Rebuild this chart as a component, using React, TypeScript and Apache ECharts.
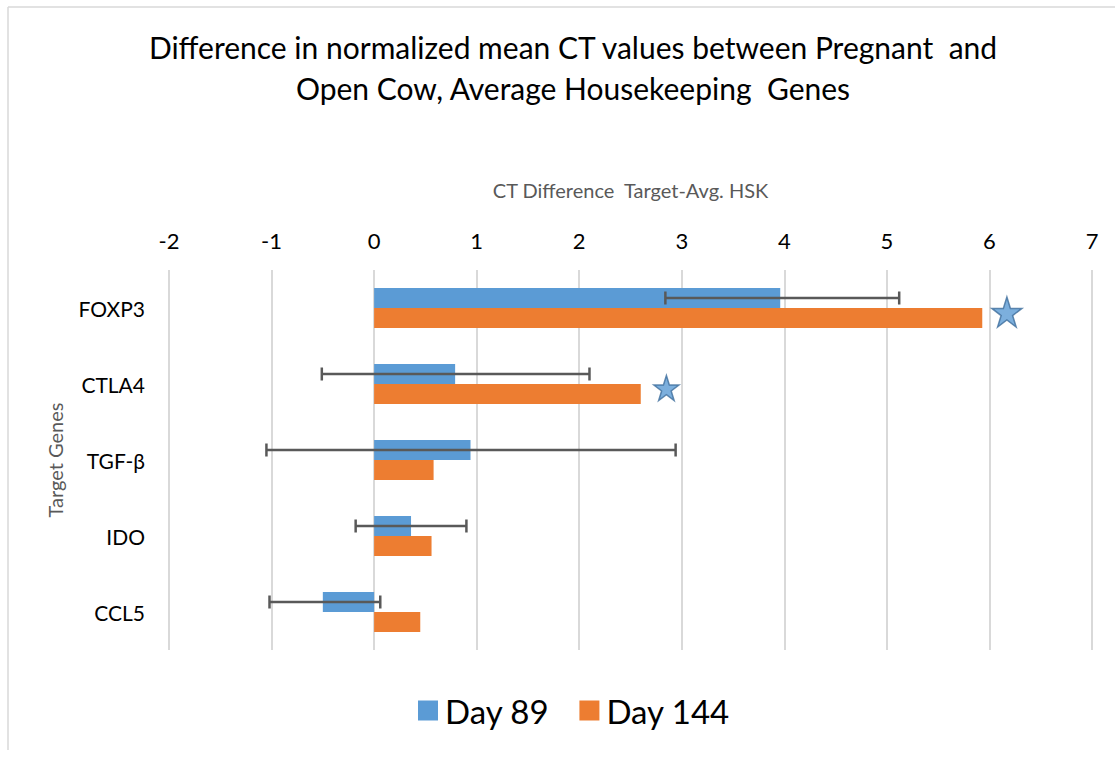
import React, { useEffect, useRef } from "react";
import * as echarts from "echarts";

const categories = ["FOXP3", "CTLA4", "TGF-β", "IDO", "CCL5"];
const day89 = [3.96, 0.79, 0.94, 0.36, -0.5];
const day144 = [5.93, 2.6, 0.58, 0.56, 0.45];
const errLow = [2.84, -0.51, -1.05, -0.18, -1.02];
const errHigh = [5.12, 2.1, 2.94, 0.9, 0.06];
const starCats = ["FOXP3", "CTLA4"];
const starX = [6.17, 2.85];
const xTicks = { min: -2, max: 7, interval: 1 };

const FONT = "Lato";
const STAR = "path://M50,0 L61.2,34.5 L97.6,34.5 L68.2,55.9 L79.4,90.5 L50,69.1 L20.6,90.5 L31.8,55.9 L2.4,34.5 L38.8,34.5 Z";
const starSizes = [30, 25];

export default function App() {
  const ref = useRef<HTMLDivElement>(null);
  useEffect(() => {
    const chart = echarts.init(ref.current!, null, { renderer: "svg" });
    const barW = 20;
    chart.setOption({
      animation: false,
      backgroundColor: "#ffffff",
      textStyle: { fontFamily: FONT },
      title: {
        text: "Difference in normalized mean CT values between Pregnant  and\nOpen Cow, Average Housekeeping  Genes",
        left: 568,
        textAlign: "center",
        top: 21,
        textStyle: { fontFamily: FONT, fontSize: 30, fontWeight: "normal", color: "#000", lineHeight: 41 },
      },
      graphic: [
        { type: "line", shape: { x1: 8, y1: 7, x2: 8, y2: 750 }, style: { stroke: "#d9d9d9", lineWidth: 1.5 } },
        { type: "line", shape: { x1: 8, y1: 7, x2: 1115, y2: 7 }, style: { stroke: "#d9d9d9", lineWidth: 1.5 } },
      ],
      legend: {
        bottom: 27,
        left: 413,
        itemWidth: 20,
        itemHeight: 20,
        itemGap: 30,
        data: ["Day 89", "Day 144"],
        textStyle: { fontFamily: FONT, fontSize: 33, color: "#000", padding: [0, 0, 0, 2] },
        icon: "rect",
      },
      grid: { left: 169, right: 23, top: 270, bottom: 109, containLabel: false },
      xAxis: {
        type: "value",
        position: "top",
        min: xTicks.min,
        max: xTicks.max,
        interval: xTicks.interval,
        name: "CT Difference  Target-Avg. HSK",
        nameLocation: "middle",
        nameGap: 70,
        nameTextStyle: { fontFamily: FONT, fontSize: 20, color: "#595959" },
        axisLine: { show: false },
        axisTick: { show: false },
        axisLabel: { fontFamily: FONT, fontSize: 22, color: "#000", margin: 19 },
        splitLine: { show: true, lineStyle: { color: "#d9d9d9", width: 2 } },
      },
      yAxis: {
        type: "category",
        inverse: true,
        data: categories,
        name: "Target Genes",
        nameLocation: "middle",
        nameRotate: 90,
        nameGap: 104,
        nameTextStyle: { fontFamily: FONT, fontSize: 20, color: "#595959" },
        axisLine: { show: false },
        axisTick: { show: false },
        axisLabel: { fontFamily: FONT, fontSize: 21, color: "#000", margin: 24 },
        splitLine: { show: false },
      },
      series: [
        {
          name: "Day 89",
          type: "bar",
          data: day89,
          barWidth: barW,
          barGap: "0%",
          itemStyle: { color: "#5b9bd5" },
        },
        {
          name: "Day 144",
          type: "bar",
          data: day144,
          barWidth: barW,
          barGap: "0%",
          itemStyle: { color: "#ed7d31" },
        },
        {
          type: "custom",
          name: "err",
          data: categories.map((c, i) => [i, errLow[i], errHigh[i]]),
          encode: { y: 0, x: [1, 2] },
          z: 5,
          renderItem: (params: any, api: any) => {
            const ci = api.value(0);
            const p1 = api.coord([api.value(1), ci]);
            const p2 = api.coord([api.value(2), ci]);
            const y = p1[1] - barW / 2;
            const cap = 6.5;
            const st = { stroke: "#595959", lineWidth: 2.5 };
            return {
              type: "group",
              children: [
                { type: "line", shape: { x1: p1[0], y1: y, x2: p2[0], y2: y }, style: st },
                { type: "line", shape: { x1: p1[0], y1: y - cap, x2: p1[0], y2: y + cap }, style: st },
                { type: "line", shape: { x1: p2[0], y1: y - cap, x2: p2[0], y2: y + cap }, style: st },
              ],
            };
          },
        },
        {
          type: "scatter",
          name: "star",
          data: starX.map((x, i) => ({ value: [x, starCats[i]], symbolSize: starSizes[i] })),
          symbol: STAR,
          symbolOffset: [0, 4],
          itemStyle: { color: "#5b9bd5", borderColor: "#3e6e9c", borderWidth: 1.5 },
          z: 6,
        },
      ],
    });
    return () => chart.dispose();
  }, []);
  return <div ref={ref} style={{ position: "fixed", left: 0, top: 0, width: 1115, height: 759 }} />;
}
